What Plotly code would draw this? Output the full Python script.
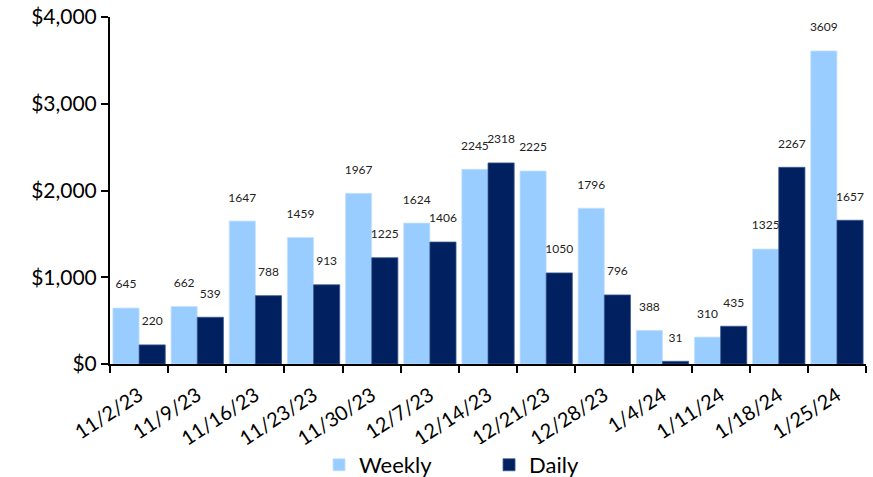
import plotly.graph_objects as go

categories = ["11/2/23", "11/9/23", "11/16/23", "11/23/23", "11/30/23", "12/7/23",
              "12/14/23", "12/21/23", "12/28/23", "1/4/24", "1/11/24", "1/18/24", "1/25/24"]
weekly = [645, 662, 1647, 1459, 1967, 1624, 2245, 2225, 1796, 388, 310, 1325, 3609]
daily = [220, 539, 788, 913, 1225, 1406, 2318, 1050, 796, 31, 435, 2267, 1657]
y_ticks = [0, 1000, 2000, 3000, 4000]
y_tick_labels = ["$0", "$1,000", "$2,000", "$3,000", "$4,000"]

FONT = "Lato"
tmpl = "%{text}<br><span style='font-size:7px'> </span>"

fig = go.Figure()
fig.add_trace(go.Bar(
    x=categories, y=weekly, name="Weekly",
    marker=dict(color="#99CCFF", line=dict(color="#C5E2FF", width=0.8)),
    text=[str(v) for v in weekly], texttemplate=tmpl, textposition="outside",
    textfont=dict(size=12, color="#222222", family=FONT),
    cliponaxis=False,
))
fig.add_trace(go.Bar(
    x=categories, y=daily, name="Daily",
    marker=dict(color="#002060", line=dict(color="#3A5A8F", width=0.8)),
    text=[str(v) for v in daily], texttemplate=tmpl, textposition="outside",
    textfont=dict(size=12, color="#222222", family=FONT),
    cliponaxis=False,
))

fig.update_layout(
    width=873, height=477,
    margin=dict(l=110, r=7, t=17, b=113, autoexpand=False),
    paper_bgcolor="white", plot_bgcolor="white",
    barmode="group", bargap=0.1, bargroupgap=0,
    font=dict(family=FONT, color="#000000"),
    showlegend=True,
    legend=dict(orientation="h", x=0.2765, xanchor="left", y=-0.291, yanchor="middle",
                font=dict(size=22, family=FONT), itemwidth=30, tracegroupgap=0,
                entrywidth=125),
    uniformtext=dict(minsize=12, mode="show"),
)
fig.update_xaxes(
    type="category", showline=True, linecolor="#000000", linewidth=2,
    ticks="outside", tickson="boundaries", ticklen=7, tickwidth=2, tickcolor="#000000",
    tickangle=-33, tickfont=dict(size=20, family=FONT), ticklabelstandoff=10,
    showgrid=False, automargin=False,
)
fig.update_yaxes(
    range=[0, 4000], tickvals=y_ticks, ticktext=y_tick_labels,
    showline=True, linecolor="#000000", linewidth=2,
    ticks="outside", ticklen=7, tickwidth=2, tickcolor="#000000",
    tickfont=dict(size=21, family=FONT), showgrid=False, zeroline=False, automargin=False,
)

fig.write_html("out.html", config={"displayModeBar": False},
               post_script="document.body.style.margin='0';")
